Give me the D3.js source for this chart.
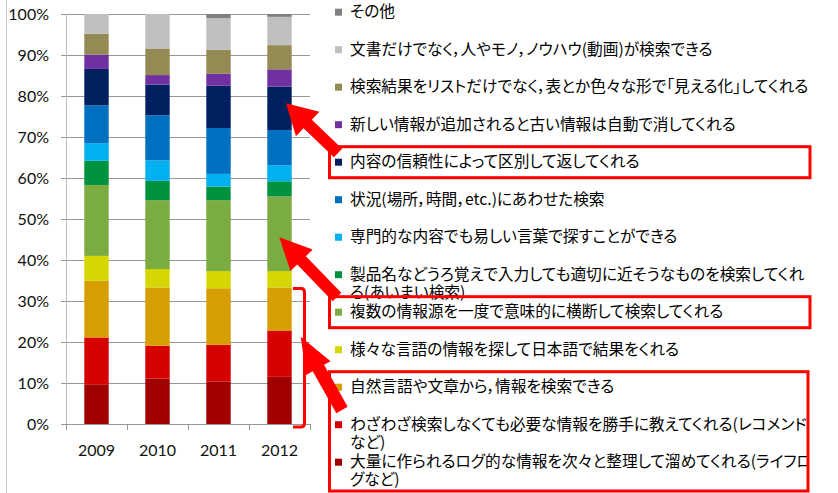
<!DOCTYPE html>
<html>
<head>
<meta charset="utf-8">
<script src="https://cdn.jsdelivr.net/npm/d3@7"></script>
<style>
  body { margin: 0; background: #fff; }
  svg { display: block; }
</style>
</head>
<body>
<svg id="chart" width="838" height="493"></svg>
<script>
// years on the x axis
const years = ["2009", "2010", "2011", "2012"];

// series values (%), bottom of the stack first
const lifelog     = [9.7, 11.1, 10.4, 11.5];
const recommend   = [11.4, 8.0, 8.9, 11.3];
const natural     = [13.9, 14.2, 13.8, 10.5];
const multilang   = [6.0, 4.5, 4.2, 4.0];
const crossSearch = [17.3, 16.8, 17.3, 18.2];
const fuzzy       = [5.9, 4.7, 3.3, 3.7];
const plainWords  = [4.3, 5.0, 3.1, 3.9];
const context     = [9.2, 11.0, 11.2, 8.6];
const reliability = [8.9, 7.5, 10.3, 10.6];
const freshness   = [3.5, 2.3, 2.9, 4.2];
const visualize   = [5.1, 6.5, 5.9, 5.9];
const people      = [4.8, 8.4, 7.7, 6.9];
const other       = [0, 0, 1.0, 0.7];

const seriesValues = [lifelog, recommend, natural, multilang, crossSearch, fuzzy,
  plainWords, context, reliability, freshness, visualize, people, other];

// legend labels, same order as seriesValues ("\n" = wrapped line)
const seriesLabels = [
  "大量に作られるログ的な情報を次々と整理して溜めてくれる(ライフロ\nグなど)",
  "わざわざ検索しなくても必要な情報を勝手に教えてくれる(レコメンド\nなど)",
  "自然言語や文章から，情報を検索できる",
  "様々な言語の情報を探して日本語で結果をくれる",
  "複数の情報源を一度で意味的に横断して検索してくれる",
  "製品名などうろ覚えで入力しても適切に近そうなものを検索してくれ\nる(あいまい検索)",
  "専門的な内容でも易しい言葉で探すことができる",
  "状況(場所，時間，etc.)にあわせた検索",
  "内容の信頼性によって区別して返してくれる",
  "新しい情報が追加されると古い情報は自動で消してくれる",
  "検索結果をリストだけでなく，表とか色々な形で「見える化」してくれる",
  "文書だけでなく，人やモノ，ノウハウ(動画)が検索できる",
  "その他"
];

const yTicks = [0, 10, 20, 30, 40, 50, 60, 70, 80, 90, 100];

// highlighted legend entries (boxes)
const boxedGroups = [[8, 8], [4, 4], [0, 2]];

const palette = ["#a00000", "#d60000", "#d69e00", "#d6d600", "#7aac41", "#00923f",
  "#00b0f0", "#0070c0", "#002060", "#7030a0", "#948a54", "#bfbfbf", "#808080"];

const svg = d3.select("#chart");
const FONT = "'Noto Sans CJK JP', 'Noto Sans', sans-serif";
const AXFONT = "Lato, 'Open Sans', sans-serif";

const x = d3.scaleBand().domain(years).range([66, 310]).paddingInner(0.6).paddingOuter(0.3);
const y = d3.scaleLinear().domain([0, 100]).range([424, 14]);

// left sheet border
svg.append("line").attr("x1", 6.5).attr("x2", 6.5).attr("y1", 0).attr("y2", 493)
  .attr("stroke", "#c4c4c4").attr("stroke-width", 1);

// gridlines
svg.append("g").selectAll("line").data(yTicks).join("line")
  .attr("x1", 61).attr("x2", 310)
  .attr("y1", d => Math.round(y(d)) + 0.5).attr("y2", d => Math.round(y(d)) + 0.5)
  .attr("stroke", "#979797").attr("stroke-width", 1);

// y axis line
svg.append("line").attr("x1", 66.5).attr("x2", 66.5).attr("y1", y(100)).attr("y2", y(0))
  .attr("stroke", "#bdbdbd");

// x ticks between categories
const step = x.step();
const xTickPos = d3.range(years.length + 1).map(i => 66 + i * step);
svg.append("g").selectAll("line").data(xTickPos).join("line")
  .attr("x1", d => Math.round(d) + 0.5).attr("x2", d => Math.round(d) + 0.5)
  .attr("y1", y(0)).attr("y2", y(0) + 6)
  .attr("stroke", "#979797");

// y labels
svg.append("g").selectAll("text").data(yTicks).join("text")
  .attr("x", 49).attr("y", d => y(d)).attr("dy", "0.35em")
  .attr("text-anchor", "end")
  .style("font-family", AXFONT).style("font-size", "16px").style("fill", "#111")
  .text(d => d + "%");

// x labels
svg.append("g").selectAll("text").data(years).join("text")
  .attr("x", d => x(d) + x.bandwidth() / 2).attr("y", 450).attr("dy", "0.35em")
  .attr("text-anchor", "middle")
  .style("font-family", AXFONT).style("font-size", "16px").style("fill", "#111")
  .text(d => d);

// stacked bars
const table = years.map((yr, j) => {
  const row = { year: yr };
  seriesValues.forEach((s, i) => { row["s" + i] = s[j]; });
  return row;
});
const stack = d3.stack().keys(seriesValues.map((_, i) => "s" + i));
const layers = stack(table);

svg.append("g").selectAll("g").data(layers).join("g")
  .attr("fill", (d, i) => palette[i])
  .selectAll("rect").data(d => d).join("rect")
  .attr("x", d => x(d.data.year))
  .attr("width", x.bandwidth())
  .attr("y", d => y(d[1]))
  .attr("height", d => Math.max(0, y(d[0]) - y(d[1])));

// legend (top = last series)
const legendY = d3.scaleLinear().domain([seriesLabels.length - 1, 0]).range([11.7, 461.7]);
const defs = svg.append("defs");
defs.append("clipPath").attr("id", "clipWide")
  .append("rect").attr("x", 330).attr("y", 0).attr("width", 490).attr("height", 493);
defs.append("clipPath").attr("id", "clipBox")
  .append("rect").attr("x", 330).attr("y", 0).attr("width", 478).attr("height", 493);

const inBox = i => boxedGroups.some(([lo, hi]) => i >= lo && i <= hi);

seriesLabels.forEach((lab, i) => {
  const cy = legendY(i);
  const g = svg.append("g").attr("clip-path", inBox(i) ? "url(#clipBox)" : "url(#clipWide)");
  g.append("rect").attr("x", 335).attr("y", cy - 3).attr("width", 7).attr("height", 7)
    .attr("fill", palette[i]);
  const t = g.append("text").attr("x", 350).attr("y", cy)
    .style("font-family", FONT).style("font-size", "15.7px").style("fill", "#000")
    .style("font-feature-settings", "'palt'");
  lab.split("\n").forEach((line, k) => {
    t.append("tspan").attr("x", 350).attr("dy", k === 0 ? "0.35em" : "18px").text(line);
  });
});

// red highlight boxes around legend entries
boxedGroups.forEach(([lo, hi]) => {
  const top = legendY(hi) - 15;
  let bottom = legendY(lo) + 16;
  if (lo === 0) bottom = 491;
  svg.append("rect")
    .attr("x", 329.5).attr("y", top)
    .attr("width", lo === 0 ? 478.5 : 480.5).attr("height", bottom - top)
    .attr("fill", "none").attr("stroke", "#ff0000").attr("stroke-width", 3);
});

// bracket next to the 2012 bar (bottom three series)
const bTop = y(lifelog[3] + recommend[3] + natural[3]) + 1;
svg.append("path")
  .attr("d", `M293,${bTop} H301 Q304.5,${bTop} 304.5,${bTop + 4} V${y(0) - 1} Q304.5,${y(0) + 3} 301,${y(0) + 3} H293`)
  .attr("fill", "none").attr("stroke", "#ff0000").attr("stroke-width", 3);

// arrows
function arrowPoints(tip, tail, headLen, headW, shaftW) {
  const dx = tail[0] - tip[0], dy = tail[1] - tip[1];
  const len = Math.hypot(dx, dy);
  const ux = dx / len, uy = dy / len, nx = -uy, ny = ux;
  const bx = tip[0] + ux * headLen, by = tip[1] + uy * headLen;
  return [
    [tip[0], tip[1]],
    [bx + nx * headW / 2, by + ny * headW / 2],
    [bx + nx * shaftW / 2, by + ny * shaftW / 2],
    [tail[0] + nx * shaftW / 2, tail[1] + ny * shaftW / 2],
    [tail[0] - nx * shaftW / 2, tail[1] - ny * shaftW / 2],
    [bx - nx * shaftW / 2, by - ny * shaftW / 2],
    [bx - nx * headW / 2, by - ny * headW / 2]
  ];
}
const arrows = [
  { tip: [286, 103.3], tail: [338, 153], head: 30, hw: 34, sw: 12 },
  { tip: [279.3, 237.3], tail: [337, 297], head: 32, hw: 31, sw: 12 },
  { tip: [300.7, 336.7], tail: [342, 410], head: 36, hw: 28, sw: 13 }
];
svg.append("g").selectAll("polygon").data(arrows).join("polygon")
  .attr("points", d => arrowPoints(d.tip, d.tail, d.head, d.hw, d.sw).map(p => p.join(",")).join(" "))
  .attr("fill", "#ff0000");
</script>
</body>
</html>
